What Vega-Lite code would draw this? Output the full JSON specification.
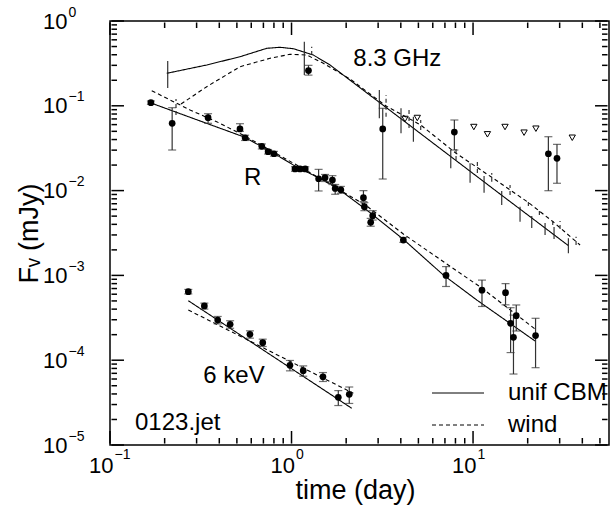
{
  "$schema": "https://vega.github.io/schema/vega-lite/v6.json",
  "width": 499,
  "height": 424,
  "autosize": {"type": "none"},
  "padding": {"left": 110, "top": 21, "right": 6, "bottom": 68},
  "config": {
    "font": "Liberation Sans",
    "view": {"stroke": "black", "strokeWidth": 1.5},
    "axis": {"labelColor": "black", "titleColor": "black", "titleFontWeight": "normal", "labelFont": "Liberation Sans", "titleFont": "Liberation Sans"}
  },
  "datasets": {
    "points": [
      {"band": "R", "t": 0.168, "F": 0.109, "lo": 0.104, "hi": 0.114},
      {"band": "R", "t": 0.22, "F": 0.0622, "lo": 0.0301, "hi": 0.095},
      {"band": "R", "t": 0.347, "F": 0.0724, "lo": 0.0622, "hi": 0.0807},
      {"band": "R", "t": 0.52, "F": 0.0533, "lo": 0.05, "hi": 0.0615},
      {"band": "R", "t": 0.555, "F": 0.042, "lo": 0.039, "hi": 0.045},
      {"band": "R", "t": 0.686, "F": 0.0333, "lo": 0.031, "hi": 0.0355},
      {"band": "R", "t": 0.743, "F": 0.0288, "lo": 0.027, "hi": 0.0305},
      {"band": "R", "t": 0.8, "F": 0.0272, "lo": 0.0255, "hi": 0.029},
      {"band": "R", "t": 1.045, "F": 0.018, "lo": 0.0169, "hi": 0.0191},
      {"band": "R", "t": 1.114, "F": 0.018, "lo": 0.0169, "hi": 0.0191},
      {"band": "R", "t": 1.19, "F": 0.018, "lo": 0.0169, "hi": 0.0191},
      {"band": "R", "t": 1.41, "F": 0.0138, "lo": 0.0099, "hi": 0.0178},
      {"band": "R", "t": 1.53, "F": 0.0142, "lo": 0.0128, "hi": 0.0155},
      {"band": "R", "t": 1.68, "F": 0.0133, "lo": 0.0118, "hi": 0.015},
      {"band": "R", "t": 1.74, "F": 0.0106, "lo": 0.00905, "hi": 0.0118},
      {"band": "R", "t": 1.87, "F": 0.0102, "lo": 0.0093, "hi": 0.0112},
      {"band": "R", "t": 2.49, "F": 0.00825, "lo": 0.0074, "hi": 0.00997},
      {"band": "R", "t": 2.52, "F": 0.00646, "lo": 0.0058, "hi": 0.0072},
      {"band": "R", "t": 2.8, "F": 0.00506, "lo": 0.0045, "hi": 0.0058},
      {"band": "R", "t": 2.73, "F": 0.00423, "lo": 0.0038, "hi": 0.0047},
      {"band": "R", "t": 4.13, "F": 0.00261, "lo": 0.00245, "hi": 0.0028},
      {"band": "R", "t": 7.1, "F": 0.001, "lo": 0.00074, "hi": 0.00127},
      {"band": "R", "t": 11.2, "F": 0.00067, "lo": 0.00043, "hi": 0.00088},
      {"band": "R", "t": 15.1, "F": 0.000625, "lo": 0.00045, "hi": 0.0008},
      {"band": "R", "t": 16.1, "F": 0.000272, "lo": 0.000123, "hi": 0.000416},
      {"band": "R", "t": 16.7, "F": 0.000186, "lo": 0.0000687, "hi": 0.00034},
      {"band": "R", "t": 17.3, "F": 0.000335, "lo": 0.000221, "hi": 0.000448},
      {"band": "R", "t": 22.1, "F": 0.000195, "lo": 0.0000816, "hi": 0.000312},
      {"band": "6 keV", "t": 0.27, "F": 0.000643, "lo": 0.000605, "hi": 0.000683},
      {"band": "6 keV", "t": 0.331, "F": 0.000436, "lo": 0.000401, "hi": 0.000471},
      {"band": "6 keV", "t": 0.392, "F": 0.000298, "lo": 0.000268, "hi": 0.000328},
      {"band": "6 keV", "t": 0.459, "F": 0.000265, "lo": 0.000238, "hi": 0.000292},
      {"band": "6 keV", "t": 0.59, "F": 0.000202, "lo": 0.000182, "hi": 0.000222},
      {"band": "6 keV", "t": 0.694, "F": 0.000161, "lo": 0.000145, "hi": 0.000177},
      {"band": "6 keV", "t": 0.98, "F": 0.0000871, "lo": 0.0000749, "hi": 0.0000993},
      {"band": "6 keV", "t": 1.16, "F": 0.0000752, "lo": 0.0000647, "hi": 0.0000857},
      {"band": "6 keV", "t": 1.49, "F": 0.0000638, "lo": 0.0000561, "hi": 0.0000715},
      {"band": "6 keV", "t": 1.81, "F": 0.0000365, "lo": 0.0000292, "hi": 0.0000438},
      {"band": "6 keV", "t": 2.08, "F": 0.0000396, "lo": 0.0000309, "hi": 0.0000483},
      {"band": "8.3 GHz", "t": 1.24, "F": 0.26, "lo": 0.23, "hi": 0.3},
      {"band": "8.3 GHz", "t": 3.18, "F": 0.0533, "lo": 0.0137, "hi": 0.0934},
      {"band": "8.3 GHz", "t": 7.89, "F": 0.049, "lo": 0.0301, "hi": 0.068},
      {"band": "8.3 GHz", "t": 26.0, "F": 0.0272, "lo": 0.00997, "hi": 0.0432},
      {"band": "8.3 GHz", "t": 29.0, "F": 0.024, "lo": 0.0122, "hi": 0.0351}
    ],
    "limits": [
      {"t": 4.22, "F": 0.0699},
      {"t": 4.93, "F": 0.0718},
      {"t": 10.1, "F": 0.0562},
      {"t": 12.0, "F": 0.0461},
      {"t": 15.0, "F": 0.0562},
      {"t": 19.1, "F": 0.0482},
      {"t": 22.2, "F": 0.0537},
      {"t": 35.2, "F": 0.042}
    ],
    "models": [
      {"model": "unif CBM", "band": "R", "t": 0.1682, "F": 0.1079},
      {"model": "unif CBM", "band": "R", "t": 0.276, "F": 0.0732},
      {"model": "unif CBM", "band": "R", "t": 0.5426, "F": 0.0432},
      {"model": "unif CBM", "band": "R", "t": 0.7612, "F": 0.0293},
      {"model": "unif CBM", "band": "R", "t": 1.045, "F": 0.0195},
      {"model": "unif CBM", "band": "R", "t": 1.693, "F": 0.01164},
      {"model": "unif CBM", "band": "R", "t": 2.596, "F": 0.0059},
      {"model": "unif CBM", "band": "R", "t": 4.13, "F": 0.002665},
      {"model": "unif CBM", "band": "R", "t": 6.862, "F": 0.001011},
      {"model": "unif CBM", "band": "R", "t": 10.48, "F": 0.000513},
      {"model": "unif CBM", "band": "R", "t": 21.96, "F": 0.0001684},
      {"model": "wind", "band": "R", "t": 0.1698, "F": 0.1507},
      {"model": "wind", "band": "R", "t": 0.276, "F": 0.0892},
      {"model": "wind", "band": "R", "t": 0.3871, "F": 0.0649},
      {"model": "wind", "band": "R", "t": 0.5406, "F": 0.0452},
      {"model": "wind", "band": "R", "t": 0.7612, "F": 0.0301},
      {"model": "wind", "band": "R", "t": 1.114, "F": 0.019},
      {"model": "wind", "band": "R", "t": 1.693, "F": 0.01133},
      {"model": "wind", "band": "R", "t": 2.596, "F": 0.00658},
      {"model": "wind", "band": "R", "t": 4.13, "F": 0.003078},
      {"model": "wind", "band": "R", "t": 7.165, "F": 0.001363},
      {"model": "wind", "band": "R", "t": 11.17, "F": 0.00071},
      {"model": "wind", "band": "R", "t": 21.96, "F": 0.0002333},
      {"model": "unif CBM", "band": "8.3 GHz", "t": 0.2053, "F": 0.2416},
      {"model": "unif CBM", "band": "8.3 GHz", "t": 0.3411, "F": 0.3029},
      {"model": "unif CBM", "band": "8.3 GHz", "t": 0.5204, "F": 0.3793},
      {"model": "unif CBM", "band": "8.3 GHz", "t": 0.7304, "F": 0.4765},
      {"model": "unif CBM", "band": "8.3 GHz", "t": 0.8643, "F": 0.4896},
      {"model": "unif CBM", "band": "8.3 GHz", "t": 1.023, "F": 0.4714},
      {"model": "unif CBM", "band": "8.3 GHz", "t": 1.318, "F": 0.3972},
      {"model": "unif CBM", "band": "8.3 GHz", "t": 1.63, "F": 0.3029},
      {"model": "unif CBM", "band": "8.3 GHz", "t": 2.101, "F": 0.2004},
      {"model": "unif CBM", "band": "8.3 GHz", "t": 3.961, "F": 0.0718},
      {"model": "unif CBM", "band": "8.3 GHz", "t": 7.468, "F": 0.02559},
      {"model": "unif CBM", "band": "8.3 GHz", "t": 14.08, "F": 0.00912},
      {"model": "unif CBM", "band": "8.3 GHz", "t": 33.5, "F": 0.002246},
      {"model": "wind", "band": "8.3 GHz", "t": 0.2461, "F": 0.105},
      {"model": "wind", "band": "8.3 GHz", "t": 0.3411, "F": 0.168},
      {"model": "wind", "band": "8.3 GHz", "t": 0.5204, "F": 0.2891},
      {"model": "wind", "band": "8.3 GHz", "t": 0.7612, "F": 0.3632},
      {"model": "wind", "band": "8.3 GHz", "t": 0.981, "F": 0.4048},
      {"model": "wind", "band": "8.3 GHz", "t": 1.213, "F": 0.3972},
      {"model": "wind", "band": "8.3 GHz", "t": 1.497, "F": 0.317},
      {"model": "wind", "band": "8.3 GHz", "t": 2.101, "F": 0.207},
      {"model": "wind", "band": "8.3 GHz", "t": 3.317, "F": 0.0995},
      {"model": "wind", "band": "8.3 GHz", "t": 5.15, "F": 0.0594},
      {"model": "wind", "band": "8.3 GHz", "t": 8.06, "F": 0.02754},
      {"model": "wind", "band": "8.3 GHz", "t": 12.68, "F": 0.01435},
      {"model": "wind", "band": "8.3 GHz", "t": 20.17, "F": 0.00724},
      {"model": "wind", "band": "8.3 GHz", "t": 27.49, "F": 0.00432},
      {"model": "wind", "band": "8.3 GHz", "t": 38.87, "F": 0.002283},
      {"model": "unif CBM", "band": "6 keV", "t": 0.27, "F": 0.000503},
      {"model": "unif CBM", "band": "6 keV", "t": 2.146, "F": 0.0000271},
      {"model": "wind", "band": "6 keV", "t": 0.27, "F": 0.000391},
      {"model": "wind", "band": "6 keV", "t": 2.19, "F": 0.0000407}
    ],
    "modelbars": [
      {"model": "unif CBM", "t": 0.208, "lo": 0.1622, "hi": 0.3375},
      {"model": "unif CBM", "t": 1.176, "lo": 0.2307, "hi": 0.57},
      {"model": "unif CBM", "t": 3.045, "lo": 0.0712, "hi": 0.1536},
      {"model": "unif CBM", "t": 4.01, "lo": 0.0474, "hi": 0.0934},
      {"model": "unif CBM", "t": 4.69, "lo": 0.0377, "hi": 0.0744},
      {"model": "unif CBM", "t": 7.54, "lo": 0.0183, "hi": 0.0301},
      {"model": "unif CBM", "t": 9.63, "lo": 0.0124, "hi": 0.021},
      {"model": "unif CBM", "t": 11.5, "lo": 0.00945, "hi": 0.01487},
      {"model": "unif CBM", "t": 14.39, "lo": 0.00676, "hi": 0.00989},
      {"model": "unif CBM", "t": 18.15, "lo": 0.0043, "hi": 0.00646},
      {"model": "unif CBM", "t": 21.06, "lo": 0.00362, "hi": 0.00502},
      {"model": "unif CBM", "t": 24.93, "lo": 0.003, "hi": 0.00415},
      {"model": "unif CBM", "t": 27.94, "lo": 0.00269, "hi": 0.00372},
      {"model": "unif CBM", "t": 33.5, "lo": 0.00182, "hi": 0.00274},
      {"model": "wind", "t": 0.231, "lo": 0.0779, "hi": 0.1203},
      {"model": "wind", "t": 1.292, "lo": 0.397, "hi": 0.4976},
      {"model": "wind", "t": 3.317, "lo": 0.0744, "hi": 0.134},
      {"model": "wind", "t": 4.44, "lo": 0.0547, "hi": 0.0892},
      {"model": "wind", "t": 5.15, "lo": 0.0518, "hi": 0.068},
      {"model": "wind", "t": 8.06, "lo": 0.0229, "hi": 0.0329},
      {"model": "wind", "t": 10.56, "lo": 0.0161, "hi": 0.0229},
      {"model": "wind", "t": 12.68, "lo": 0.0127, "hi": 0.0161},
      {"model": "wind", "t": 15.99, "lo": 0.00887, "hi": 0.01164},
      {"model": "wind", "t": 20.17, "lo": 0.00658, "hi": 0.00796},
      {"model": "wind", "t": 23.19, "lo": 0.00516, "hi": 0.00623},
      {"model": "wind", "t": 27.49, "lo": 0.00393, "hi": 0.00475},
      {"model": "wind", "t": 30.15, "lo": 0.00352, "hi": 0.00438},
      {"model": "wind", "t": 36.94, "lo": 0.00228, "hi": 0.00286}
    ],
    "labels": [
      {"text": "8.3 GHz", "t": 2.19, "F": 0.2946},
      {"text": "R", "t": 0.5474, "F": 0.01164},
      {"text": "6 keV", "t": 0.3266, "F": 0.0000534},
      {"text": "0123.jet", "t": 0.1373, "F": 0.00001503}
    ],
    "vticks": [
      {"t": 0.1, "F1": 0.0000104, "F2": 0.00001463}, {"t": 1, "F1": 0.0000104, "F2": 0.00001463}, {"t": 10, "F1": 0.0000104, "F2": 0.00001463},
      {"t": 0.1, "F1": 0.96, "F2": 0.6836}, {"t": 1, "F1": 0.96, "F2": 0.6836}, {"t": 10, "F1": 0.96, "F2": 0.6836},
      {"t": 0.2, "F1": 0.0000104, "F2": 0.00001209}, {"t": 0.3, "F1": 0.0000104, "F2": 0.00001209}, {"t": 0.4, "F1": 0.0000104, "F2": 0.00001209}, {"t": 0.5, "F1": 0.0000104, "F2": 0.00001209}, {"t": 0.6, "F1": 0.0000104, "F2": 0.00001209}, {"t": 0.7, "F1": 0.0000104, "F2": 0.00001209}, {"t": 0.8, "F1": 0.0000104, "F2": 0.00001209}, {"t": 0.9, "F1": 0.0000104, "F2": 0.00001209},
      {"t": 2, "F1": 0.0000104, "F2": 0.00001209}, {"t": 3, "F1": 0.0000104, "F2": 0.00001209}, {"t": 4, "F1": 0.0000104, "F2": 0.00001209}, {"t": 5, "F1": 0.0000104, "F2": 0.00001209}, {"t": 6, "F1": 0.0000104, "F2": 0.00001209}, {"t": 7, "F1": 0.0000104, "F2": 0.00001209}, {"t": 8, "F1": 0.0000104, "F2": 0.00001209}, {"t": 9, "F1": 0.0000104, "F2": 0.00001209},
      {"t": 20, "F1": 0.0000104, "F2": 0.00001209}, {"t": 30, "F1": 0.0000104, "F2": 0.00001209}, {"t": 40, "F1": 0.0000104, "F2": 0.00001209}, {"t": 50, "F1": 0.0000104, "F2": 0.00001209},
      {"t": 0.2, "F1": 0.96, "F2": 0.8268}, {"t": 0.3, "F1": 0.96, "F2": 0.8268}, {"t": 0.4, "F1": 0.96, "F2": 0.8268}, {"t": 0.5, "F1": 0.96, "F2": 0.8268}, {"t": 0.6, "F1": 0.96, "F2": 0.8268}, {"t": 0.7, "F1": 0.96, "F2": 0.8268}, {"t": 0.8, "F1": 0.96, "F2": 0.8268}, {"t": 0.9, "F1": 0.96, "F2": 0.8268},
      {"t": 2, "F1": 0.96, "F2": 0.8268}, {"t": 3, "F1": 0.96, "F2": 0.8268}, {"t": 4, "F1": 0.96, "F2": 0.8268}, {"t": 5, "F1": 0.96, "F2": 0.8268}, {"t": 6, "F1": 0.96, "F2": 0.8268}, {"t": 7, "F1": 0.96, "F2": 0.8268}, {"t": 8, "F1": 0.96, "F2": 0.8268}, {"t": 9, "F1": 0.96, "F2": 0.8268},
      {"t": 20, "F1": 0.96, "F2": 0.8268}, {"t": 30, "F1": 0.96, "F2": 0.8268}, {"t": 40, "F1": 0.96, "F2": 0.8268}, {"t": 50, "F1": 0.96, "F2": 0.8268}
    ],
    "hticks": [
      {"F": 0.00001, "t1": 0.1019, "t2": 0.1194}, {"F": 0.0001, "t1": 0.1019, "t2": 0.1194}, {"F": 0.001, "t1": 0.1019, "t2": 0.1194}, {"F": 0.01, "t1": 0.1019, "t2": 0.1194}, {"F": 0.1, "t1": 0.1019, "t2": 0.1194}, {"F": 1, "t1": 0.1019, "t2": 0.1194},
      {"F": 0.00001, "t1": 55.04, "t2": 46.99}, {"F": 0.0001, "t1": 55.04, "t2": 46.99}, {"F": 0.001, "t1": 55.04, "t2": 46.99}, {"F": 0.01, "t1": 55.04, "t2": 46.99}, {"F": 0.1, "t1": 55.04, "t2": 46.99}, {"F": 1, "t1": 55.04, "t2": 46.99},
      {"F": 0.00002, "t1": 0.1019, "t2": 0.1093}, {"F": 0.00003, "t1": 0.1019, "t2": 0.1093}, {"F": 0.00004, "t1": 0.1019, "t2": 0.1093}, {"F": 0.00005, "t1": 0.1019, "t2": 0.1093}, {"F": 0.00006, "t1": 0.1019, "t2": 0.1093}, {"F": 0.00007, "t1": 0.1019, "t2": 0.1093}, {"F": 0.00008, "t1": 0.1019, "t2": 0.1093}, {"F": 0.00009, "t1": 0.1019, "t2": 0.1093},
      {"F": 0.0002, "t1": 0.1019, "t2": 0.1093}, {"F": 0.0003, "t1": 0.1019, "t2": 0.1093}, {"F": 0.0004, "t1": 0.1019, "t2": 0.1093}, {"F": 0.0005, "t1": 0.1019, "t2": 0.1093}, {"F": 0.0006, "t1": 0.1019, "t2": 0.1093}, {"F": 0.0007, "t1": 0.1019, "t2": 0.1093}, {"F": 0.0008, "t1": 0.1019, "t2": 0.1093}, {"F": 0.0009, "t1": 0.1019, "t2": 0.1093},
      {"F": 0.002, "t1": 0.1019, "t2": 0.1093}, {"F": 0.003, "t1": 0.1019, "t2": 0.1093}, {"F": 0.004, "t1": 0.1019, "t2": 0.1093}, {"F": 0.005, "t1": 0.1019, "t2": 0.1093}, {"F": 0.006, "t1": 0.1019, "t2": 0.1093}, {"F": 0.007, "t1": 0.1019, "t2": 0.1093}, {"F": 0.008, "t1": 0.1019, "t2": 0.1093}, {"F": 0.009, "t1": 0.1019, "t2": 0.1093},
      {"F": 0.02, "t1": 0.1019, "t2": 0.1093}, {"F": 0.03, "t1": 0.1019, "t2": 0.1093}, {"F": 0.04, "t1": 0.1019, "t2": 0.1093}, {"F": 0.05, "t1": 0.1019, "t2": 0.1093}, {"F": 0.06, "t1": 0.1019, "t2": 0.1093}, {"F": 0.07, "t1": 0.1019, "t2": 0.1093}, {"F": 0.08, "t1": 0.1019, "t2": 0.1093}, {"F": 0.09, "t1": 0.1019, "t2": 0.1093},
      {"F": 0.2, "t1": 0.1019, "t2": 0.1093}, {"F": 0.3, "t1": 0.1019, "t2": 0.1093}, {"F": 0.4, "t1": 0.1019, "t2": 0.1093}, {"F": 0.5, "t1": 0.1019, "t2": 0.1093}, {"F": 0.6, "t1": 0.1019, "t2": 0.1093}, {"F": 0.7, "t1": 0.1019, "t2": 0.1093}, {"F": 0.8, "t1": 0.1019, "t2": 0.1093}, {"F": 0.9, "t1": 0.1019, "t2": 0.1093},
      {"F": 0.00002, "t1": 55.04, "t2": 51.36}, {"F": 0.00003, "t1": 55.04, "t2": 51.36}, {"F": 0.00004, "t1": 55.04, "t2": 51.36}, {"F": 0.00005, "t1": 55.04, "t2": 51.36}, {"F": 0.00006, "t1": 55.04, "t2": 51.36}, {"F": 0.00007, "t1": 55.04, "t2": 51.36}, {"F": 0.00008, "t1": 55.04, "t2": 51.36}, {"F": 0.00009, "t1": 55.04, "t2": 51.36},
      {"F": 0.0002, "t1": 55.04, "t2": 51.36}, {"F": 0.0003, "t1": 55.04, "t2": 51.36}, {"F": 0.0004, "t1": 55.04, "t2": 51.36}, {"F": 0.0005, "t1": 55.04, "t2": 51.36}, {"F": 0.0006, "t1": 55.04, "t2": 51.36}, {"F": 0.0007, "t1": 55.04, "t2": 51.36}, {"F": 0.0008, "t1": 55.04, "t2": 51.36}, {"F": 0.0009, "t1": 55.04, "t2": 51.36},
      {"F": 0.002, "t1": 55.04, "t2": 51.36}, {"F": 0.003, "t1": 55.04, "t2": 51.36}, {"F": 0.004, "t1": 55.04, "t2": 51.36}, {"F": 0.005, "t1": 55.04, "t2": 51.36}, {"F": 0.006, "t1": 55.04, "t2": 51.36}, {"F": 0.007, "t1": 55.04, "t2": 51.36}, {"F": 0.008, "t1": 55.04, "t2": 51.36}, {"F": 0.009, "t1": 55.04, "t2": 51.36},
      {"F": 0.02, "t1": 55.04, "t2": 51.36}, {"F": 0.03, "t1": 55.04, "t2": 51.36}, {"F": 0.04, "t1": 55.04, "t2": 51.36}, {"F": 0.05, "t1": 55.04, "t2": 51.36}, {"F": 0.06, "t1": 55.04, "t2": 51.36}, {"F": 0.07, "t1": 55.04, "t2": 51.36}, {"F": 0.08, "t1": 55.04, "t2": 51.36}, {"F": 0.09, "t1": 55.04, "t2": 51.36},
      {"F": 0.2, "t1": 55.04, "t2": 51.36}, {"F": 0.3, "t1": 55.04, "t2": 51.36}, {"F": 0.4, "t1": 55.04, "t2": 51.36}, {"F": 0.5, "t1": 55.04, "t2": 51.36}, {"F": 0.6, "t1": 55.04, "t2": 51.36}, {"F": 0.7, "t1": 55.04, "t2": 51.36}, {"F": 0.8, "t1": 55.04, "t2": 51.36}, {"F": 0.9, "t1": 55.04, "t2": 51.36}
    ]
  },
  "resolve": {"axis": {"x": "independent", "y": "independent"}},
  "layer": [
    {
      "data": {"name": "models"},
      "mark": {"type": "line", "color": "black", "strokeWidth": 1.1},
      "encoding": {
        "x": {"field": "t", "type": "quantitative", "scale": {"type": "log", "domain": [0.1, 56.1], "nice": false},
          "axis": {"orient": "bottom", "values": [0.1, 1, 10], "labelExpr": "'10'", "ticks": false, "domain": false, "grid": false,
            "labelFontSize": 22, "labelAlign": "right", "labelBaseline": "alphabetic", "labelPadding": 27, "labelOffset": 3,
            "labelFlush": false, "labelOverlap": false, "labelBound": false,
            "title": "time (day)", "titleFontSize": 27, "titleX": 245, "titleY": 53, "titleBaseline": "alphabetic", "titleAlign": "center"}},
        "y": {"field": "F", "type": "quantitative", "scale": {"type": "log", "domain": [0.00001, 1], "nice": false},
          "axis": {"orient": "left", "values": [0.00001, 0.0001, 0.001, 0.01, 0.1, 1], "labelExpr": "'10'", "ticks": false, "domain": false, "grid": false,
            "labelFontSize": 22, "labelAlign": "right", "labelBaseline": "middle", "labelPadding": 43,
            "labelFlush": false, "labelOverlap": false, "labelBound": false,
            "title": "Fᵥ (mJy)", "titleFontSize": 27, "titleX": -73, "titleY": 212, "titleAngle": -90, "titleBaseline": "alphabetic", "titleAlign": "center"}},
        "strokeDash": {"field": "model", "type": "nominal",
          "scale": {"domain": ["unif CBM", "wind"], "range": [[1, 0], [4, 3]]},
          "legend": {"orient": "none", "legendX": 362, "legendY": 360, "title": null, "symbolType": "M-13,0H0", "symbolSize": 64,
            "symbolStrokeColor": "black", "symbolStrokeWidth": 1, "labelFontSize": 24, "labelOffset": 12, "rowPadding": 8, "padding": 0,
            "labelFont": "Liberation Sans", "labelColor": "black", "labelLimit": 300}},
        "detail": {"field": "band", "type": "nominal"}
      }
    },
    {
      "data": {"name": "modelbars"},
      "mark": {"type": "rule", "color": "#222", "strokeWidth": 1.1},
      "encoding": {
        "x": {"field": "t", "type": "quantitative", "scale": {"type": "log", "domain": [0.1, 56.1], "nice": false},
          "axis": {"orient": "bottom", "values": [0.1, 1, 10], "labelExpr": "replace('' + round(log(datum.value) / LN10), '-', '−')",
            "ticks": false, "domain": false, "grid": false, "labelFontSize": 14, "labelAlign": "left", "labelBaseline": "alphabetic",
            "labelPadding": 13, "labelOffset": 4, "labelFlush": false, "labelOverlap": false, "labelBound": false, "title": null}},
        "y": {"field": "lo", "type": "quantitative", "scale": {"type": "log", "domain": [0.00001, 1], "nice": false},
          "axis": {"orient": "left", "values": [0.00001, 0.0001, 0.001, 0.01, 0.1, 1], "labelExpr": "replace('' + round(log(datum.value) / LN10), '-', '−')",
            "ticks": false, "domain": false, "grid": false, "labelFontSize": 14, "labelAlign": "left", "labelBaseline": "middle",
            "labelPadding": 42, "labelOffset": -9, "labelFlush": false, "labelOverlap": false, "labelBound": false, "title": null}},
        "y2": {"field": "hi"},
        "strokeDash": {"field": "model", "type": "nominal", "scale": {"domain": ["unif CBM", "wind"], "range": [[1, 0], [4, 3]]}, "legend": null}
      }
    },
    {
      "data": {"name": "points"},
      "mark": {"type": "rule", "color": "#333", "strokeWidth": 1.2},
      "encoding": {
        "x": {"field": "t", "type": "quantitative", "scale": {"type": "log", "domain": [0.1, 56.1], "nice": false}, "axis": null},
        "y": {"field": "lo", "type": "quantitative", "scale": {"type": "log", "domain": [0.00001, 1], "nice": false}, "axis": null},
        "y2": {"field": "hi"}
      }
    },
    {
      "data": {"name": "points"},
      "mark": {"type": "tick", "orient": "horizontal", "color": "#333", "size": 8, "thickness": 1.2},
      "encoding": {
        "x": {"field": "t", "type": "quantitative", "scale": {"type": "log", "domain": [0.1, 56.1], "nice": false}, "axis": null},
        "y": {"field": "lo", "type": "quantitative", "scale": {"type": "log", "domain": [0.00001, 1], "nice": false}, "axis": null}
      }
    },
    {
      "data": {"name": "points"},
      "mark": {"type": "tick", "orient": "horizontal", "color": "#333", "size": 8, "thickness": 1.2},
      "encoding": {
        "x": {"field": "t", "type": "quantitative", "scale": {"type": "log", "domain": [0.1, 56.1], "nice": false}, "axis": null},
        "y": {"field": "hi", "type": "quantitative", "scale": {"type": "log", "domain": [0.00001, 1], "nice": false}, "axis": null}
      }
    },
    {
      "data": {"name": "points"},
      "mark": {"type": "circle", "color": "black", "size": 45, "opacity": 1},
      "encoding": {
        "x": {"field": "t", "type": "quantitative", "scale": {"type": "log", "domain": [0.1, 56.1], "nice": false}, "axis": null},
        "y": {"field": "F", "type": "quantitative", "scale": {"type": "log", "domain": [0.00001, 1], "nice": false}, "axis": null}
      }
    },
    {
      "data": {"name": "limits"},
      "mark": {"type": "point", "shape": "triangle-down", "filled": false, "color": "black", "strokeWidth": 1, "size": 40, "opacity": 1},
      "encoding": {
        "x": {"field": "t", "type": "quantitative", "scale": {"type": "log", "domain": [0.1, 56.1], "nice": false}, "axis": null},
        "y": {"field": "F", "type": "quantitative", "scale": {"type": "log", "domain": [0.00001, 1], "nice": false}, "axis": null}
      }
    },
    {
      "data": {"name": "labels"},
      "mark": {"type": "text", "align": "left", "baseline": "alphabetic", "fontSize": 24, "color": "black", "font": "Liberation Sans"},
      "encoding": {
        "x": {"field": "t", "type": "quantitative", "scale": {"type": "log", "domain": [0.1, 56.1], "nice": false}, "axis": null},
        "y": {"field": "F", "type": "quantitative", "scale": {"type": "log", "domain": [0.00001, 1], "nice": false}, "axis": null},
        "text": {"field": "text", "type": "nominal"}
      }
    },
    {
      "data": {"name": "vticks"},
      "mark": {"type": "rule", "color": "black", "strokeWidth": 1.5},
      "encoding": {
        "x": {"field": "t", "type": "quantitative", "scale": {"type": "log", "domain": [0.1, 56.1], "nice": false}, "axis": null},
        "y": {"field": "F1", "type": "quantitative", "scale": {"type": "log", "domain": [0.00001, 1], "nice": false}, "axis": null},
        "y2": {"field": "F2"}
      }
    },
    {
      "data": {"name": "hticks"},
      "mark": {"type": "rule", "color": "black", "strokeWidth": 1.5},
      "encoding": {
        "y": {"field": "F", "type": "quantitative", "scale": {"type": "log", "domain": [0.00001, 1], "nice": false}, "axis": null},
        "x": {"field": "t1", "type": "quantitative", "scale": {"type": "log", "domain": [0.1, 56.1], "nice": false}, "axis": null},
        "x2": {"field": "t2"}
      }
    }
  ]
}
